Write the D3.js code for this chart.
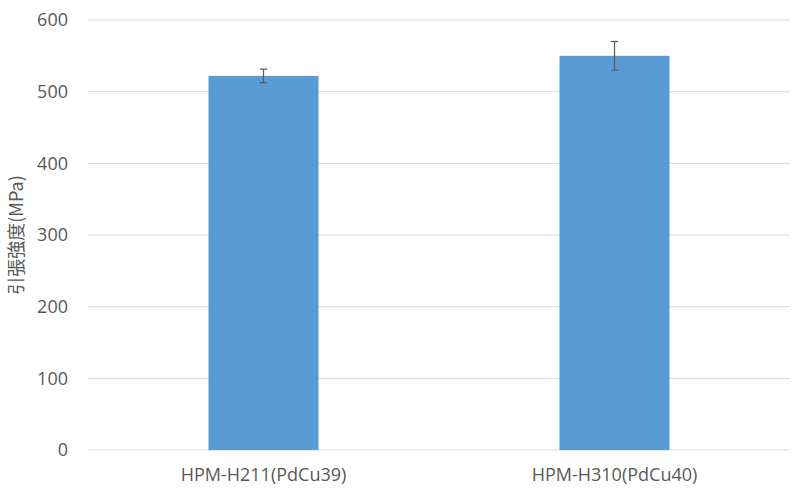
<!DOCTYPE html>
<html><head><meta charset="utf-8">
<script src="https://cdn.jsdelivr.net/npm/d3@7"></script>
<style>body{margin:0;background:#fff;}svg{display:block;}</style>
</head><body>
<script>
const categories = ["HPM-H211(PdCu39)", "HPM-H310(PdCu40)"];
const values = [522, 550];
const errors = [9.5, 20];
const yTicks = [0, 100, 200, 300, 400, 500, 600];
const yTitle = "引張強度(MPa)";

const W = 800, H = 491;
const m = {left: 88, right: 10, top: 20, bottom: 41};
const svg = d3.select("body").append("svg").attr("width", W).attr("height", H);
const font = "'Open Sans','Noto Sans CJK JP',sans-serif";
const titleFont = "'Noto Sans CJK JP','Open Sans',sans-serif";

const x = d3.scaleBand().domain(categories).range([m.left, W - m.right])
  .paddingInner(0.6866).paddingOuter(0.3433);
const y = d3.scaleLinear().domain([0, 600]).range([H - m.bottom, m.top]);

// gridlines
svg.append("g").selectAll("line").data(yTicks).join("line")
  .attr("x1", m.left).attr("x2", W - m.right)
  .attr("y1", d => y(d)).attr("y2", d => y(d))
  .attr("stroke", "#d9d9d9").attr("stroke-width", 1);

// y axis labels
const yAxis = d3.axisLeft(y).tickValues(yTicks).tickSize(0).tickPadding(20);
const gy = svg.append("g").attr("transform", `translate(${m.left},0)`).call(yAxis);
gy.select(".domain").remove();
gy.selectAll("text").attr("font-family", font).attr("font-size", 18).attr("fill", "#595959");

// bars
svg.append("g").selectAll("rect").data(values).join("rect")
  .attr("x", (d, i) => x(categories[i]))
  .attr("width", x.bandwidth())
  .attr("y", d => y(d))
  .attr("height", d => y(0) - y(d))
  .attr("fill", "#5b9bd5");

// error bars
const eg = svg.append("g").attr("stroke", "#595959").attr("stroke-width", 1.2);
values.forEach((v, i) => {
  const cx = x(categories[i]) + x.bandwidth() / 2;
  eg.append("line").attr("x1", cx).attr("x2", cx).attr("y1", y(v + errors[i])).attr("y2", y(v - errors[i]));
  [v + errors[i], v - errors[i]].forEach(e => {
    eg.append("line").attr("x1", cx - 3.7).attr("x2", cx + 3.7).attr("y1", y(e)).attr("y2", y(e));
  });
});

// x axis
const xAxis = d3.axisBottom(x).tickSize(0).tickPadding(18);
const gx = svg.append("g").attr("transform", `translate(0,${y(0)})`).call(xAxis);
gx.select(".domain").remove();
gx.selectAll("text").attr("font-family", font).attr("font-size", 18).attr("fill", "#595959");

// y title
svg.append("text")
  .attr("transform", `translate(23,${(y(0) + y(600)) / 2}) rotate(-90)`)
  .attr("text-anchor", "middle")
  .attr("font-family", titleFont).attr("font-size", 18).attr("fill", "#595959")
  .text(yTitle);
</script>
</body></html>
